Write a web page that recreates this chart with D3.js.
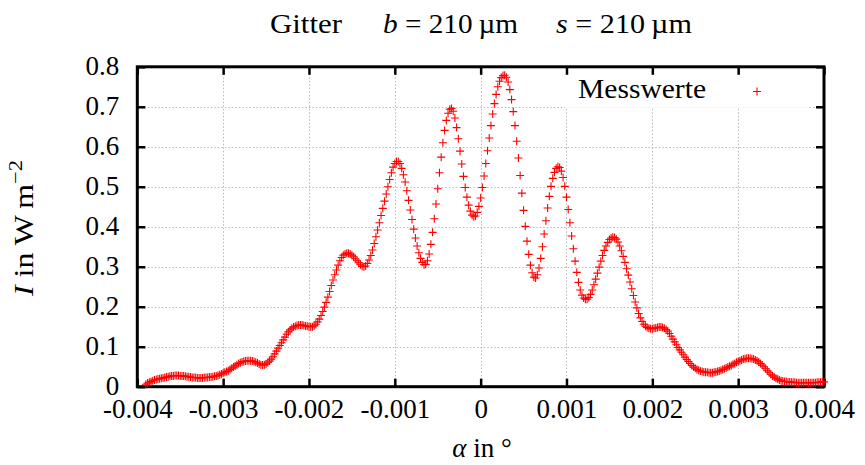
<!DOCTYPE html>
<html>
<head>
<meta charset="utf-8">
<script src="https://cdn.jsdelivr.net/npm/d3@7"></script>
<style>
  html, body { margin: 0; padding: 0; background: #fff; }
  svg text { font-family: "Liberation Serif", "Times New Roman", serif; fill: #000; }
</style>
</head>
<body>
<svg id="chart" width="865" height="465"></svg>
<script>
// ---- data ----
const alphaStart = -0.0039;   // first sample angle in degrees
const alphaStep = 0.00002;    // sampling step in degrees
const intensity = [
  0.006,0.009,0.011,0.013,0.015,0.017,0.018,0.019,0.020,0.021,
  0.022,0.023,0.024,0.025,0.026,0.027,0.027,0.028,0.028,0.028,
  0.027,0.027,0.027,0.026,0.025,0.025,0.024,0.023,0.023,0.023,
  0.022,0.022,0.022,0.022,0.023,0.023,0.023,0.024,0.024,0.025,
  0.026,0.027,0.028,0.030,0.032,0.034,0.036,0.038,0.040,0.043,
  0.046,0.049,0.052,0.055,0.058,0.060,0.062,0.063,0.064,0.065,
  0.065,0.065,0.064,0.063,0.061,0.059,0.057,0.055,0.054,0.055,
  0.057,0.060,0.064,0.069,0.075,0.082,0.089,0.096,0.103,0.110,
  0.117,0.124,0.131,0.137,0.142,0.146,0.149,0.151,0.153,0.154,
  0.154,0.154,0.153,0.152,0.151,0.150,0.150,0.150,0.152,0.156,
  0.162,0.169,0.178,0.188,0.199,0.211,0.224,0.238,0.253,0.267,
  0.280,0.292,0.304,0.315,0.323,0.329,0.332,0.334,0.334,0.332,
  0.329,0.325,0.320,0.315,0.310,0.305,0.301,0.300,0.302,0.308,
  0.317,0.328,0.342,0.358,0.375,0.392,0.410,0.428,0.446,0.464,
  0.482,0.500,0.518,0.535,0.549,0.558,0.563,0.563,0.558,0.546,
  0.530,0.512,0.490,0.466,0.442,0.418,0.394,0.372,0.352,0.335,
  0.321,0.311,0.305,0.306,0.315,0.332,0.356,0.386,0.420,0.457,
  0.495,0.535,0.574,0.610,0.641,0.666,0.684,0.694,0.696,0.689,
  0.672,0.648,0.620,0.589,0.557,0.526,0.498,0.474,0.454,0.439,
  0.429,0.425,0.427,0.436,0.451,0.472,0.498,0.527,0.558,0.590,
  0.622,0.653,0.682,0.708,0.731,0.750,0.764,0.773,0.778,0.779,
  0.774,0.762,0.743,0.718,0.688,0.653,0.614,0.572,0.528,0.484,
  0.441,0.401,0.364,0.331,0.304,0.285,0.274,0.272,0.280,0.297,
  0.321,0.350,0.382,0.415,0.447,0.476,0.501,0.521,0.536,0.546,
  0.550,0.548,0.539,0.523,0.501,0.474,0.443,0.410,0.377,0.345,
  0.314,0.286,0.261,0.242,0.229,0.222,0.219,0.219,0.223,0.231,
  0.242,0.255,0.269,0.284,0.299,0.314,0.328,0.341,0.352,0.361,
  0.368,0.372,0.374,0.373,0.369,0.362,0.352,0.340,0.326,0.311,
  0.295,0.279,0.262,0.245,0.228,0.212,0.197,0.183,0.172,0.163,
  0.156,0.151,0.148,0.146,0.145,0.145,0.146,0.147,0.148,0.149,
  0.149,0.148,0.146,0.143,0.139,0.133,0.126,0.119,0.112,0.105,
  0.098,0.092,0.086,0.080,0.074,0.068,0.063,0.058,0.053,0.049,
  0.046,0.043,0.041,0.039,0.038,0.037,0.036,0.036,0.035,0.035,
  0.035,0.036,0.037,0.038,0.039,0.041,0.043,0.045,0.047,0.049,
  0.051,0.053,0.056,0.058,0.061,0.063,0.065,0.067,0.069,0.070,
  0.071,0.071,0.071,0.070,0.069,0.067,0.065,0.062,0.058,0.054,
  0.050,0.045,0.040,0.036,0.031,0.027,0.024,0.021,0.019,0.017,
  0.015,0.014,0.013,0.013,0.012,0.012,0.011,0.011,0.011,0.010,
  0.010,0.010,0.010,0.010,0.010,0.010,0.010,0.010,0.010,0.010,
  0.010,0.011,0.011,0.011,0.012,0.012
];
const xTicks = [-0.004,-0.003,-0.002,-0.001,0,0.001,0.002,0.003,0.004];
const xTickLabels = ["-0.004","-0.003","-0.002","-0.001","0","0.001","0.002","0.003","0.004"];
const yTicks = [0,0.1,0.2,0.3,0.4,0.5,0.6,0.7,0.8];
const yTickLabels = ["0","0.1","0.2","0.3","0.4","0.5","0.6","0.7","0.8"];
const seriesName = "Messwerte";

const points = intensity.map((v, i) => ({ a: alphaStart + i * alphaStep, I: v }));

// ---- layout ----
const svg = d3.select("#chart");
const L = 137.3, R = 824, T = 66.8, B = 386.7;
const x = d3.scaleLinear().domain([-0.004, 0.004]).range([L, R]);
const y = d3.scaleLinear().domain([0, 0.8]).range([B, T]);
const FS = 27;

// grid
const grid = svg.append("g").attr("stroke", "#b8b8b8").attr("stroke-width", 1)
  .attr("stroke-dasharray", "1.5,2");
grid.selectAll("line.gx").data(xTicks.slice(1, -1)).join("line")
  .attr("x1", d => Math.round(x(d)) + 0.5).attr("x2", d => Math.round(x(d)) + 0.5)
  .attr("y1", T).attr("y2", B);
grid.selectAll("line.gy").data(yTicks.slice(1, -1)).join("line")
  .attr("y1", d => Math.round(y(d)) + 0.5).attr("y2", d => Math.round(y(d)) + 0.5)
  .attr("x1", L).attr("x2", R);

// legend box (opaque, hides grid)
svg.append("rect").attr("x", 565).attr("y", T).attr("width", 243).attr("height", 41)
  .attr("fill", "#fff");

// axes with inward ticks
function styleAxis(g) {
  g.select(".domain").remove();
  g.selectAll(".tick line").attr("stroke", "#000").attr("stroke-width", 2.5);
  g.selectAll(".tick text").attr("font-size", FS)
    .attr("font-family", "'Liberation Serif', serif").attr("fill", "#000");
}
svg.append("g").attr("transform", `translate(0,${B})`)
  .call(d3.axisBottom(x).tickValues(xTicks).tickFormat((d, i) => xTickLabels[i])
    .tickSizeInner(-8).tickSizeOuter(0).tickPadding(12))
  .call(styleAxis);
svg.append("g").attr("transform", `translate(0,${T})`)
  .call(d3.axisTop(x).tickValues(xTicks).tickFormat("").tickSizeInner(-8).tickSizeOuter(0))
  .call(styleAxis);
svg.append("g").attr("transform", `translate(${L},0)`)
  .call(d3.axisLeft(y).tickValues(yTicks).tickFormat((d, i) => yTickLabels[i])
    .tickSizeInner(-8).tickSizeOuter(0).tickPadding(18))
  .call(styleAxis)
  .call(g => g.selectAll(".tick text").attr("dy", "0.3em"));
svg.append("g").attr("transform", `translate(${R},0)`)
  .call(d3.axisRight(y).tickValues(yTicks).tickFormat("").tickSizeInner(-8).tickSizeOuter(0))
  .call(styleAxis);

// frame
svg.append("rect").attr("x", L).attr("y", T).attr("width", R - L).attr("height", B - T)
  .attr("fill", "none").attr("stroke", "#000").attr("stroke-width", 3);

// data crosses
const cross = "M-4,0H4M0,-4V4";
svg.append("g").selectAll("path").data(points).join("path")
  .attr("d", cross)
  .attr("transform", d => `translate(${x(d.a)},${y(d.I)})`)
  .attr("stroke", "#ff0000").attr("stroke-width", 1.1).attr("fill", "none");

// legend
svg.append("text").attr("x", 706).attr("y", 98).attr("text-anchor", "end")
  .attr("font-size", FS).attr("textLength", 128).attr("lengthAdjust", "spacingAndGlyphs")
  .text(seriesName);
svg.append("path").attr("d", cross).attr("transform", "translate(757,91.5)")
  .attr("stroke", "#ff0000").attr("stroke-width", 1.1);

// title
const title = svg.append("g").attr("font-size", FS);
title.append("text").attr("x", 270).attr("y", 33)
  .attr("textLength", 72).attr("lengthAdjust", "spacingAndGlyphs").text("Gitter");
const tb = title.append("text").attr("x", 383).attr("y", 33)
  .attr("textLength", 135).attr("lengthAdjust", "spacingAndGlyphs");
tb.append("tspan").attr("font-style", "italic").text("b");
tb.append("tspan").text(" = 210\u2009µm");
const ts = title.append("text").attr("x", 556).attr("y", 33)
  .attr("textLength", 136).attr("lengthAdjust", "spacingAndGlyphs");
ts.append("tspan").attr("font-style", "italic").text("s");
ts.append("tspan").text(" = 210\u2009µm");

// x axis label
const xl = svg.append("text").attr("x", 482).attr("y", 457).attr("text-anchor", "middle")
  .attr("font-size", FS);
xl.append("tspan").attr("font-style", "italic").text("α");
xl.append("tspan").text(" in °");

// y axis label
const yl = svg.append("text").attr("transform", "translate(33,228) rotate(-90)")
  .attr("text-anchor", "middle").attr("font-size", FS)
  .attr("textLength", 136).attr("lengthAdjust", "spacingAndGlyphs");
yl.append("tspan").attr("font-style", "italic").text("I");
yl.append("tspan").text(" in W\u2009m");
yl.append("tspan").attr("font-size", 19).attr("dy", -11).text("−2");
</script>
</body>
</html>
